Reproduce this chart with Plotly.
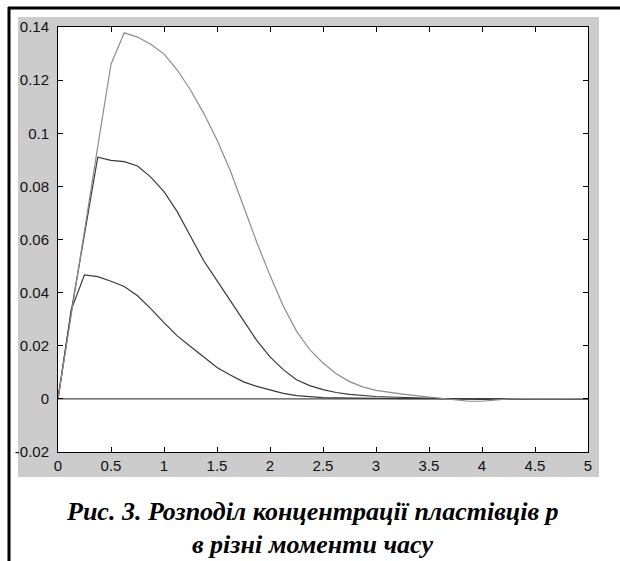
import plotly.graph_objects as go

# x grid (spatial coordinate)
x_vals = [0, 0.125, 0.25, 0.375, 0.5, 0.625, 0.75, 0.875, 1.0, 1.125, 1.25, 1.375, 1.5,
          1.625, 1.75, 1.875, 2.0, 2.125, 2.25, 2.375, 2.5, 2.625, 2.75, 2.875, 3.0,
          3.125, 3.25, 3.375, 3.5, 3.625, 3.75, 3.875, 4.0, 4.125, 4.25, 4.375, 4.5,
          4.625, 4.75, 4.875, 5.0]

p_t0 = [0.0] * 41

p_t1 = [0, 0.0335, 0.0467, 0.046, 0.0443, 0.0423, 0.0388, 0.034, 0.0287, 0.0237, 0.0197,
        0.0158, 0.0118, 0.009, 0.0064, 0.0047, 0.0033, 0.0021, 0.0012, 0.0008, 0.0005,
        0.0004, 0.0003, 0.0003, 0.0002, 0.0002, 0.0001, 0.0001, 0.0001, 0.0, 0.0, 0.0,
        0.0, 0.0, 0.0, 0.0, 0.0, 0.0, 0.0, 0.0, 0.0]

p_t2 = [0, 0.033, 0.062, 0.091, 0.0898, 0.0893, 0.0877, 0.0835, 0.078, 0.0705, 0.0612,
        0.052, 0.0445, 0.037, 0.029, 0.022, 0.0158, 0.011, 0.0072, 0.005, 0.0035,
        0.0024, 0.0017, 0.0012, 0.0009, 0.0007, 0.0005, 0.0003, 0.0002, 0.0001, 0.0,
        -0.0002, -0.0002, -0.0001, 0.0, 0.0, 0.0, 0.0, 0.0, 0.0, 0.0]

p_t3 = [0, 0.032, 0.064, 0.095, 0.126, 0.1378, 0.1362, 0.1335, 0.1298, 0.1238, 0.1163,
        0.1075, 0.0975, 0.086, 0.0725, 0.059, 0.0465, 0.035, 0.0255, 0.0185, 0.0135,
        0.0095, 0.0065, 0.0045, 0.0032, 0.0024, 0.0018, 0.0012, 0.0007, 0.0002, -0.0004,
        -0.0009, -0.0009, -0.0004, 0.0, 0.0001, 0.0001, 0.0001, 0.0001, 0.0001, 0.0001]

x_ticks = [0, 0.5, 1, 1.5, 2, 2.5, 3, 3.5, 4, 4.5, 5]
x_tick_text = ["0", "0.5", "1", "1.5", "2", "2.5", "3", "3.5", "4", "4.5", "5"]
y_ticks = [-0.02, 0, 0.02, 0.04, 0.06, 0.08, 0.1, 0.12, 0.14]
y_tick_text = ["-0.02", "0", "0.02", "0.04", "0.06", "0.08", "0.1", "0.12", "0.14"]

caption_1 = "Рис. 3. Розподіл концентрації пластівців p"
caption_2 = "в різні моменти часу"

W, H = 620, 561
L, R, T, B = 58, 32, 27, 109
pw, ph = W - L - R, H - T - B

def px_x(p):
    return (p - L) / pw

def px_y(p):
    return (H - B - p) / ph

fig = go.Figure()
fig.add_trace(go.Scatter(x=x_vals, y=p_t0, mode="lines", line=dict(color="#4a4a4a", width=1.3)))
fig.add_trace(go.Scatter(x=x_vals, y=p_t1, mode="lines", line=dict(color="#3a3a3a", width=1.2)))
fig.add_trace(go.Scatter(x=x_vals, y=p_t2, mode="lines", line=dict(color="#3a3a3a", width=1.2)))
fig.add_trace(go.Scatter(x=x_vals, y=p_t3, mode="lines", line=dict(color="#8c8c8c", width=1.2)))

shapes = [
    dict(type="rect", xref="paper", yref="paper", layer="below",
         x0=px_x(18), x1=px_x(599), y0=px_y(477), y1=px_y(17),
         fillcolor="#cccccc", line=dict(width=0)),
    dict(type="rect", xref="paper", yref="paper", layer="below",
         x0=0, x1=1, y0=0, y1=1, fillcolor="white", line=dict(width=0)),
    dict(type="line", xref="paper", yref="paper",
         x0=px_x(8), x1=px_x(621), y0=px_y(8), y1=px_y(8),
         line=dict(color="black", width=3)),
    dict(type="line", xref="paper", yref="paper",
         x0=px_x(9), x1=px_x(9), y0=px_y(7), y1=px_y(562),
         line=dict(color="black", width=3)),
]

axis_common = dict(showline=True, linecolor="black", linewidth=1, mirror="ticks",
                   ticks="inside", ticklen=5, tickcolor="black", tickwidth=1,
                   showgrid=False, zeroline=False,
                   tickfont=dict(family="Liberation Sans, Arial", size=15, color="#111111"))

fig.update_layout(
    width=W, height=H,
    margin=dict(l=L, r=R, t=T, b=B),
    paper_bgcolor="white", plot_bgcolor="white",
    showlegend=False,
    hovermode=False,
    shapes=shapes,
    xaxis=dict(range=[0, 5], tickvals=x_ticks, ticktext=x_tick_text, **axis_common),
    yaxis=dict(range=[-0.02, 0.14], tickvals=y_ticks, ticktext=y_tick_text,
               ticklabelstandoff=5, **axis_common),
    annotations=[
        dict(text="<b><i>" + caption_1 + "</i></b>", xref="paper", yref="paper",
             x=px_x(312), y=px_y(511), xanchor="center", yanchor="middle", showarrow=False,
             font=dict(family="Liberation Serif", size=26, color="black")),
        dict(text="<b><i>" + caption_2 + "</i></b>", xref="paper", yref="paper",
             x=px_x(312), y=px_y(544), xanchor="center", yanchor="middle", showarrow=False,
             font=dict(family="Liberation Serif", size=26, color="black")),
    ],
)

fig.write_html("out.html", config={"displayModeBar": False},
               post_script="document.body.style.margin='0px';")
